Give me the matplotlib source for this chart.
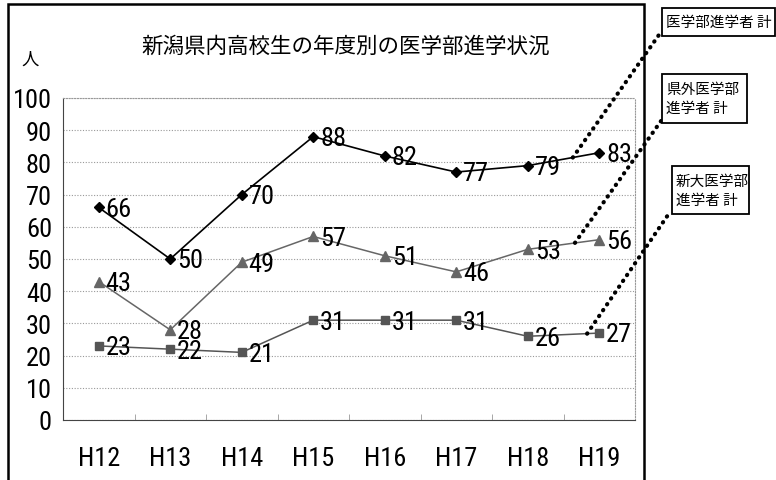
import numpy as np
import matplotlib
matplotlib.use('Agg')
import matplotlib.pyplot as plt
from matplotlib import font_manager
from matplotlib.patches import Rectangle
from matplotlib.lines import Line2D

plt.rcParams['font.family'] = ['Noto Sans CJK JP', 'DejaVu Sans']

# narrowest installed font for the numbers
installed = {f.name for f in font_manager.fontManager.ttflist}
num_font = 'DejaVu Sans'
for cand in ['Liberation Sans Narrow', 'DejaVu Sans Condensed', 'Roboto Condensed',
             'Open Sans Condensed', 'Liberation Sans']:
    if cand in installed:
        num_font = cand
        break
num_size = 19 if num_font != 'DejaVu Sans' else 15

# data
years = ['H12', 'H13', 'H14', 'H15', 'H16', 'H17', 'H18', 'H19']
total = [66, 50, 70, 88, 82, 77, 79, 83]
outside = [43, 28, 49, 57, 51, 46, 53, 56]
niigata_univ = [23, 22, 21, 31, 31, 31, 26, 27]
series_names = ['医学部進学者 計', '県外医学部\n進学者 計', '新大医学部\n進学者 計']

W, H = 776, 481
fig = plt.figure(figsize=(W / 100, H / 100), dpi=100)
ax = fig.add_axes([63 / W, 1 - 421 / H, (635 - 63) / W, (421 - 99) / H])

x = np.arange(len(years))
styles = [dict(color='black', marker='D', markersize=5, lw=1.2),
          dict(color='#666666', marker='^', markersize=7, lw=1.1),
          dict(color='#555555', marker='s', markersize=6, lw=1.1)]
all_series = [total, outside, niigata_univ]

for vals, st in zip(all_series, styles):
    ax.plot(x, vals, **st, zorder=3)
    for xi, v in zip(x, vals):
        ax.annotate(str(v), (xi, v), xytext=(5, -1), textcoords='offset points',
                    ha='left', va='center', fontsize=num_size, family=num_font,
                    color='black', zorder=4)

ax.set_xlim(-0.5, 7.5)
ax.set_ylim(0, 100)
ax.set_yticks(range(0, 101, 10))
ax.set_xticks(x)
ax.set_xticklabels(years, family=num_font, fontsize=num_size)
ax.set_yticklabels([str(v) for v in range(0, 101, 10)], family=num_font, fontsize=num_size)
ax.set_xticks(np.arange(0.5, 7, 1), minor=True)
ax.tick_params(axis='x', which='major', length=0, pad=19)
ax.tick_params(axis='x', which='minor', direction='in', length=4, color='#999999')
ax.tick_params(axis='y', length=0, pad=8)
ax.grid(axis='y', linestyle=(0, (1, 1.5)), color='#999999', lw=0.8)
ax.set_axisbelow(True)
for side in ['top', 'right']:
    ax.spines[side].set_linestyle((0, (1, 1.5)))
    ax.spines[side].set_color('#999999')
for side in ['left', 'bottom']:
    ax.spines[side].set_color('#444444')

# outer frame
fig.patches.append(Rectangle((8 / W, -0.05), (644 - 8) / W, 1.05 - 5 / H,
                             transform=fig.transFigure, fill=False,
                             ec='black', lw=1.8))

fig.text(346 / W, 1 - 47 / H, '新潟県内高校生の年度別の医学部進学状況',
         ha='center', va='center', fontsize=15.5)
fig.text(30 / W, 1 - 60 / H, '人', ha='center', va='center', fontsize=12.5)

# legend boxes with dotted callouts
boxes = [(662, 9, 775, 37), (662, 75, 747, 124), (672, 167, 749, 215)]
anchors = [(6.63, 81.5), (6.66, 55.0), (6.83, 26.8)]
ends = [(661, 33), (661, 122), (670, 213)]
for name, (l, t, r, b), (ax_x, ax_y), (ex, ey) in zip(series_names, boxes, anchors, ends):
    fig.patches.append(Rectangle((l / W, 1 - b / H), (r - l) / W, (b - t) / H,
                                 transform=fig.transFigure, fc='white',
                                 ec='black', lw=1.3, zorder=5))
    fig.text((l + 4) / W, 1 - (t + b) / 2 / H, name, ha='left', va='center',
             fontsize=10.5, linespacing=1.45, zorder=6)
    px, py = ax.transData.transform((ax_x, ax_y))
    sx, sy = fig.transFigure.inverted().transform((px, py))
    fig.lines.append(Line2D([sx, ex / W], [sy, 1 - ey / H], transform=fig.transFigure,
                            color='black', lw=3, linestyle=(0, (0.1, 1.6)),
                            dash_capstyle='round', zorder=5))

fig.savefig('out.png', dpi=100)
